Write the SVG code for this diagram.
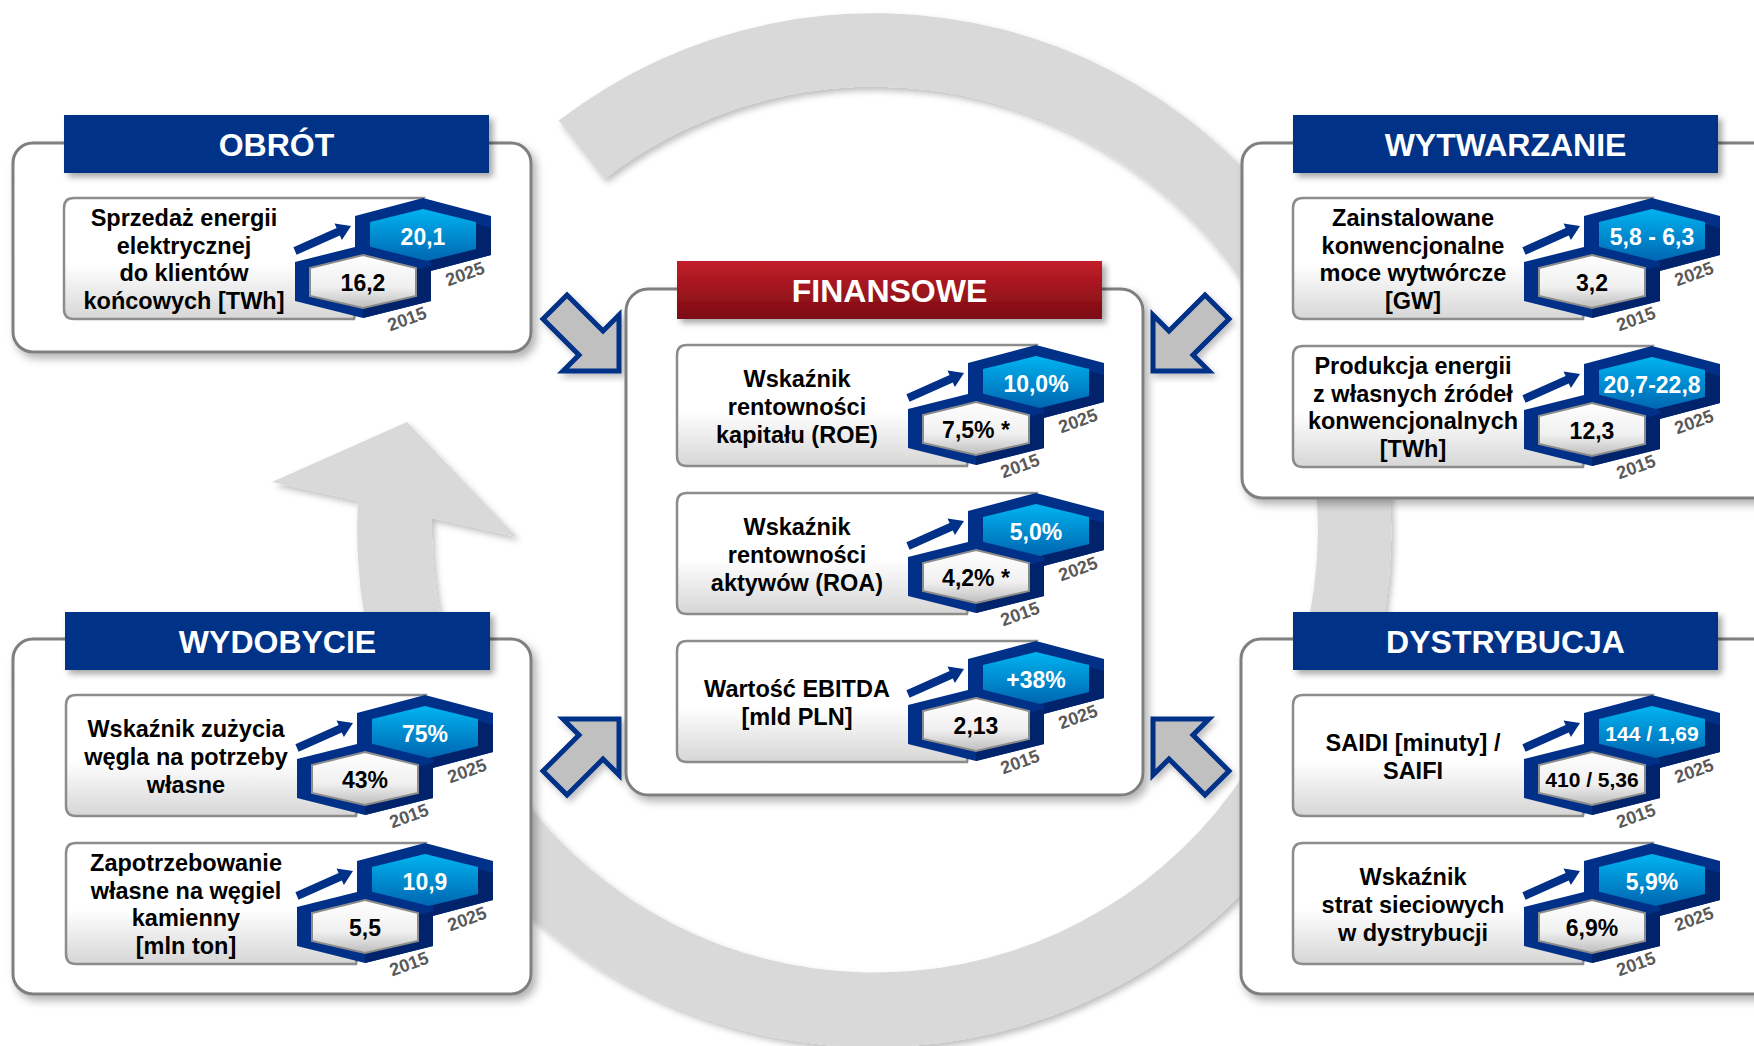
<svg xmlns="http://www.w3.org/2000/svg" width="1754" height="1046" viewBox="0 0 1754 1046">
<style>
text{font-family:"Liberation Sans",Arial,sans-serif;font-weight:bold}
.hd{font-size:32px;fill:#fff;text-anchor:middle}
.lb{font-size:23.5px;fill:#000;text-anchor:middle}
.vu{font-size:23px;fill:#fff;text-anchor:middle}
.vl{font-size:23px;fill:#000;text-anchor:middle}
.sm{font-size:21px}
.yr{font-size:18px;fill:#595959;text-anchor:middle}
.box{fill:#fff;stroke:#7f7f7f;stroke-width:3}
.hb{fill:#003087}
.ba{fill:#c0c0c0;stroke:#003087;stroke-width:5;stroke-linejoin:miter}
</style>
<defs>
<filter id="sh" x="-10%" y="-10%" width="125%" height="125%"><feDropShadow dx="4" dy="5" stdDeviation="4" flood-color="#000" flood-opacity="0.3"/></filter>
<filter id="sh2" x="-10%" y="-20%" width="125%" height="150%"><feDropShadow dx="4" dy="4" stdDeviation="3" flood-color="#000" flood-opacity="0.35"/></filter>
<filter id="sh3" x="-10%" y="-10%" width="125%" height="125%"><feDropShadow dx="3" dy="4" stdDeviation="3" flood-color="#000" flood-opacity="0.25"/></filter>
<linearGradient id="cardG" x1="0" y1="0" x2="0" y2="1"><stop offset="0" stop-color="#fff"/><stop offset="0.55" stop-color="#fff"/><stop offset="1" stop-color="#d6d6d6"/></linearGradient>
<linearGradient id="blueG" x1="0" y1="0" x2="0" y2="1"><stop offset="0" stop-color="#00b4f0"/><stop offset="1" stop-color="#0064b0"/></linearGradient>
<linearGradient id="whiteG" x1="0" y1="0" x2="0" y2="1"><stop offset="0" stop-color="#fff"/><stop offset="0.6" stop-color="#f0f0f0"/><stop offset="1" stop-color="#bdbdbd"/></linearGradient>
<linearGradient id="redG" x1="0" y1="0" x2="0" y2="1"><stop offset="0" stop-color="#c41e2a"/><stop offset="1" stop-color="#7a0c12"/></linearGradient>
<g id="kp">
<path d="M10,0 H359 L300,60 L290,121 H10 Q0,121 0,111 V10 Q0,0 10,0 Z" fill="url(#cardG)" stroke="#8c8c8c" stroke-width="2.5"/>
<polygon points="359,0 427,18 427,57 359,75 291,57 291,18" fill="#003087"/>
<polygon points="412,26 427,30 427,57 359,75 359,64 412,51" fill="#00236b"/>
<polygon points="359,11 412,24 412,51 359,64 306,51 306,24" fill="url(#blueG)"/>
<polygon points="299,47 367,64 367,103 299,120 231,103 231,64" fill="#003087"/>
<polygon points="352,72 367,68 367,103 299,120 299,110 352,98" fill="#00236b"/>
<polygon points="299,57 352,70 352,98 299,110 246,98 246,70" fill="url(#whiteG)" stroke="#8c8c8c" stroke-width="2"/>
<polygon points="229.4,49.3 272.6,30 270.5,25.5 287,28 277.9,41.9 275.8,37.4 232.6,56.7" fill="#003087"/>
</g>
</defs>
<rect width="1754" height="1046" fill="#fff"/>
<g id="ring">
<path d="M558.7,120.6 A517,517 0 1 1 358,501 L272,482 L407,422 L517,537 L432,518 A443,443 0 1 0 604.2,178.9 Z" fill="#d9d9d9" filter="url(#sh3)"/>
</g>
<g id="connectors">
<polygon class="ba" points="567,295 603,331 619,315 619,371 563,371 579,355 543,319" filter="url(#sh3)"/>
<polygon class="ba" points="1205,295 1169,331 1153,315 1153,371 1209,371 1193,355 1229,319" filter="url(#sh3)"/>
<polygon class="ba" points="567,795 603,759 619,775 619,719 563,719 579,735 543,771" filter="url(#sh3)"/>
<polygon class="ba" points="1205,795 1169,759 1153,775 1153,719 1209,719 1193,735 1229,771" filter="url(#sh3)"/>
</g>
<g id="obrot">
<rect class="box" x="13" y="143" width="518" height="209" rx="20" filter="url(#sh)"/>
<rect class="hb" x="64" y="115" width="425" height="58" filter="url(#sh2)"/>
<text class="hd" x="276.5" y="156">OBRÓT</text>
<use href="#kp" x="64" y="198"/>
<text class="lb" x="184" y="226.25">Sprzedaż energii</text>
<text class="lb" x="184" y="253.75">elektrycznej</text>
<text class="lb" x="184" y="281.25">do klientów</text>
<text class="lb" x="184" y="308.75">końcowych [TWh]</text>
<text class="vu" x="423" y="245">20,1</text>
<text class="vl" x="363" y="291">16,2</text>
<text class="yr" transform="translate(465,274) rotate(-20)" y="6">2025</text>
<text class="yr" transform="translate(407,319) rotate(-20)" y="6">2015</text>
</g>
<g id="wytwarzanie">
<rect class="box" x="1242" y="143" width="540" height="355" rx="20" filter="url(#sh)"/>
<rect class="hb" x="1293" y="115" width="425" height="58" filter="url(#sh2)"/>
<text class="hd" x="1505.5" y="156">WYTWARZANIE</text>
<use href="#kp" x="1293" y="198"/>
<text class="lb" x="1413" y="226.25">Zainstalowane</text>
<text class="lb" x="1413" y="253.75">konwencjonalne</text>
<text class="lb" x="1413" y="281.25">moce wytwórcze</text>
<text class="lb" x="1413" y="308.75">[GW]</text>
<text class="vu" x="1652" y="245">5,8 - 6,3</text>
<text class="vl" x="1592" y="291">3,2</text>
<text class="yr" transform="translate(1694,274) rotate(-20)" y="6">2025</text>
<text class="yr" transform="translate(1636,319) rotate(-20)" y="6">2015</text>
<use href="#kp" x="1293" y="346"/>
<text class="lb" x="1413" y="374.25">Produkcja energii</text>
<text class="lb" x="1413" y="401.75">z własnych źródeł</text>
<text class="lb" x="1413" y="429.25">konwencjonalnych</text>
<text class="lb" x="1413" y="456.75">[TWh]</text>
<text class="vu" x="1652" y="393">20,7-22,8</text>
<text class="vl" x="1592" y="439">12,3</text>
<text class="yr" transform="translate(1694,422) rotate(-20)" y="6">2025</text>
<text class="yr" transform="translate(1636,467) rotate(-20)" y="6">2015</text>
</g>
<g id="finansowe">
<rect class="box" x="626" y="289" width="517" height="506" rx="22" filter="url(#sh)"/>
<rect x="677" y="261" width="425" height="58" fill="url(#redG)" filter="url(#sh2)"/>
<text class="hd" x="889.5" y="302">FINANSOWE</text>
<use href="#kp" x="677" y="345"/>
<text class="lb" x="797" y="386.5">Wskaźnik</text>
<text class="lb" x="797" y="414.5">rentowności</text>
<text class="lb" x="797" y="442.5">kapitału (ROE)</text>
<text class="vu" x="1036" y="392">10,0%</text>
<text class="vl" x="976" y="438">7,5% *</text>
<text class="yr" transform="translate(1078,421) rotate(-20)" y="6">2025</text>
<text class="yr" transform="translate(1020,466) rotate(-20)" y="6">2015</text>
<use href="#kp" x="677" y="493"/>
<text class="lb" x="797" y="534.5">Wskaźnik</text>
<text class="lb" x="797" y="562.5">rentowności</text>
<text class="lb" x="797" y="590.5">aktywów (ROA)</text>
<text class="vu" x="1036" y="540">5,0%</text>
<text class="vl" x="976" y="586">4,2% *</text>
<text class="yr" transform="translate(1078,569) rotate(-20)" y="6">2025</text>
<text class="yr" transform="translate(1020,614) rotate(-20)" y="6">2015</text>
<use href="#kp" x="677" y="641"/>
<text class="lb" x="797" y="696.5">Wartość EBITDA</text>
<text class="lb" x="797" y="724.5">[mld PLN]</text>
<text class="vu" x="1036" y="688">+38%</text>
<text class="vl" x="976" y="734">2,13</text>
<text class="yr" transform="translate(1078,717) rotate(-20)" y="6">2025</text>
<text class="yr" transform="translate(1020,762) rotate(-20)" y="6">2015</text>
</g>
<g id="wydobycie">
<rect class="box" x="13" y="639" width="518" height="355" rx="20" filter="url(#sh)"/>
<rect class="hb" x="65" y="612" width="425" height="58" filter="url(#sh2)"/>
<text class="hd" x="277.5" y="653">WYDOBYCIE</text>
<use href="#kp" x="66" y="695"/>
<text class="lb" x="186" y="736.5">Wskaźnik zużycia</text>
<text class="lb" x="186" y="764.5">węgla na potrzeby</text>
<text class="lb" x="186" y="792.5">własne</text>
<text class="vu" x="425" y="742">75%</text>
<text class="vl" x="365" y="788">43%</text>
<text class="yr" transform="translate(467,771) rotate(-20)" y="6">2025</text>
<text class="yr" transform="translate(409,816) rotate(-20)" y="6">2015</text>
<use href="#kp" x="66" y="843"/>
<text class="lb" x="186" y="871.25">Zapotrzebowanie</text>
<text class="lb" x="186" y="898.75">własne na węgiel</text>
<text class="lb" x="186" y="926.25">kamienny</text>
<text class="lb" x="186" y="953.75">[mln ton]</text>
<text class="vu" x="425" y="890">10,9</text>
<text class="vl" x="365" y="936">5,5</text>
<text class="yr" transform="translate(467,919) rotate(-20)" y="6">2025</text>
<text class="yr" transform="translate(409,964) rotate(-20)" y="6">2015</text>
</g>
<g id="dystrybucja">
<rect class="box" x="1241" y="639" width="540" height="355" rx="20" filter="url(#sh)"/>
<rect class="hb" x="1293" y="612" width="425" height="58" filter="url(#sh2)"/>
<text class="hd" x="1505.5" y="653">DYSTRYBUCJA</text>
<use href="#kp" x="1293" y="695"/>
<text class="lb" x="1413" y="750.5">SAIDI [minuty] /</text>
<text class="lb" x="1413" y="778.5">SAIFI</text>
<text class="vu sm" x="1652" y="741">144 / 1,69</text>
<text class="vl sm" x="1592" y="787">410 / 5,36</text>
<text class="yr" transform="translate(1694,771) rotate(-20)" y="6">2025</text>
<text class="yr" transform="translate(1636,816) rotate(-20)" y="6">2015</text>
<use href="#kp" x="1293" y="843"/>
<text class="lb" x="1413" y="884.5">Wskaźnik</text>
<text class="lb" x="1413" y="912.5">strat sieciowych</text>
<text class="lb" x="1413" y="940.5">w dystrybucji</text>
<text class="vu" x="1652" y="890">5,9%</text>
<text class="vl" x="1592" y="936">6,9%</text>
<text class="yr" transform="translate(1694,919) rotate(-20)" y="6">2025</text>
<text class="yr" transform="translate(1636,964) rotate(-20)" y="6">2015</text>
</g>
</svg>
